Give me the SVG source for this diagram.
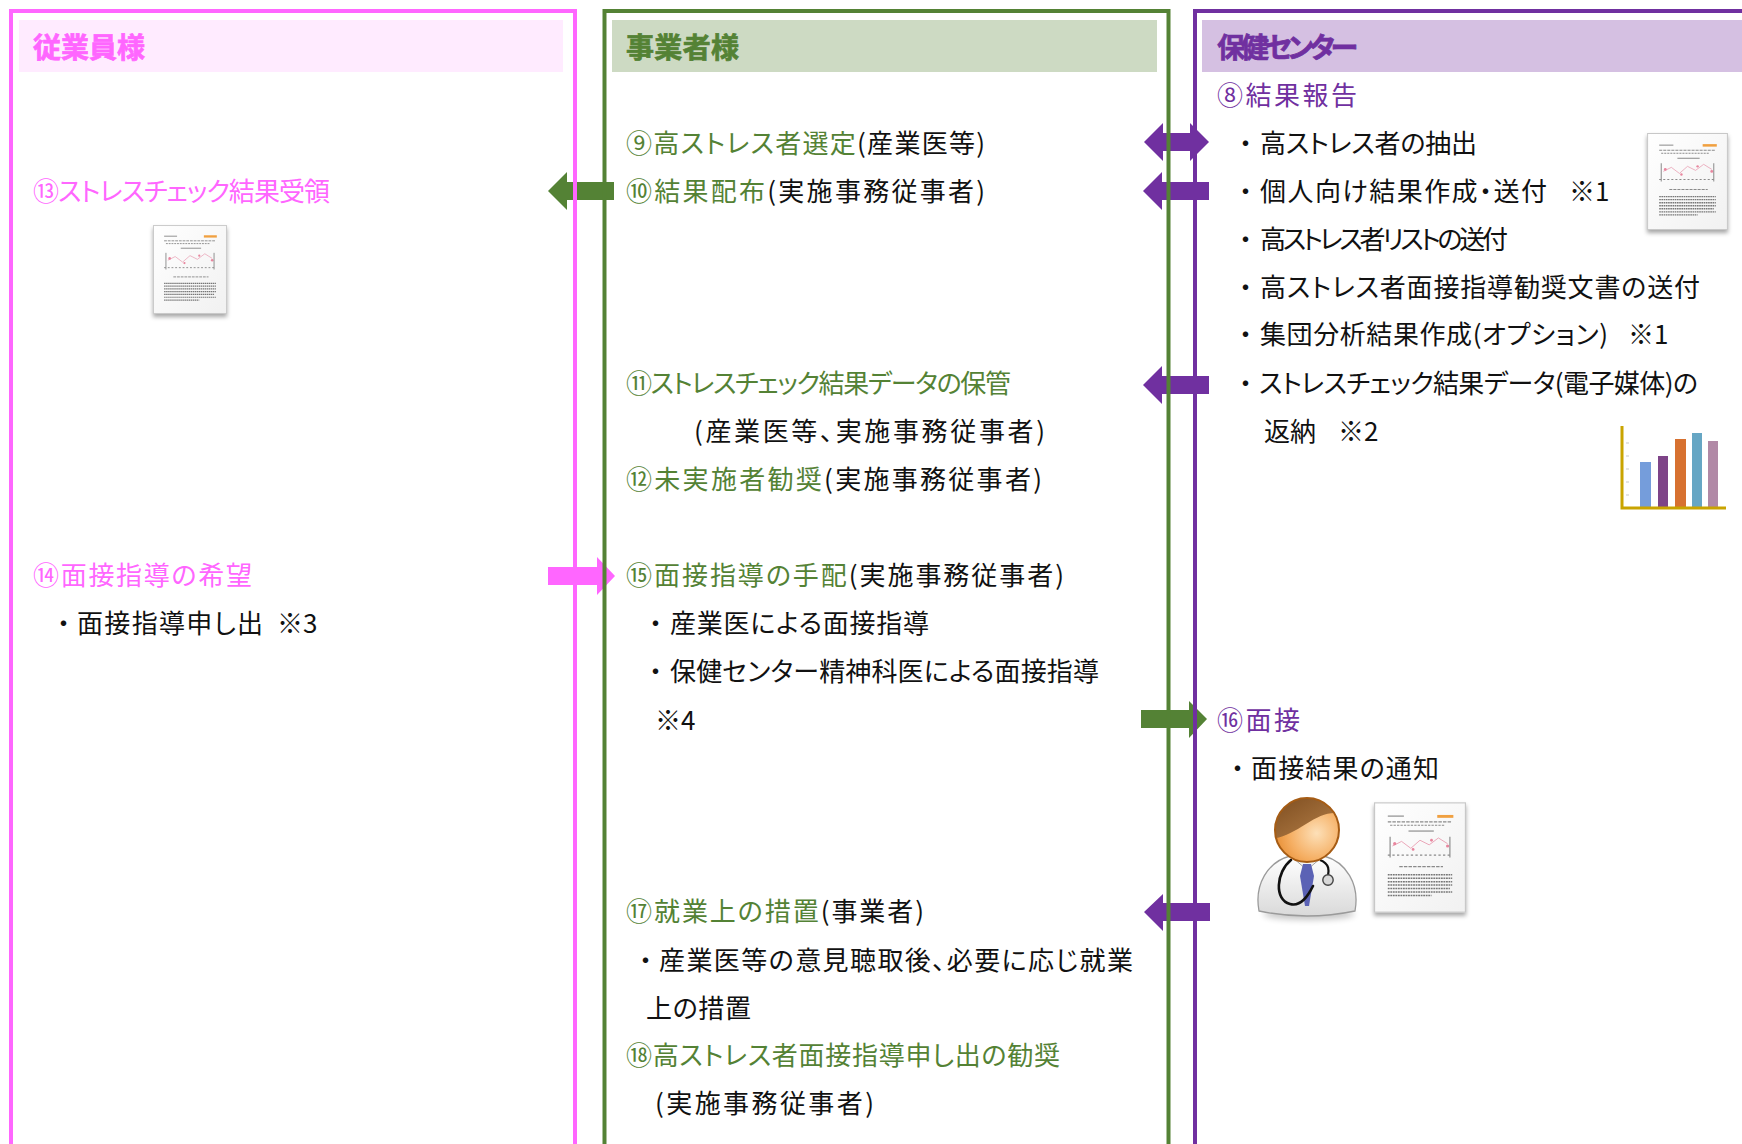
<svg xmlns="http://www.w3.org/2000/svg" width="1742" height="1144" viewBox="0 0 1742 1144">
  <style>
    text { font-family: "Noto Sans CJK JP", "Noto Sans", sans-serif; font-size: 26px; fill: #111; dominant-baseline: central; font-feature-settings: "palt" 1; }
    .hd { font-size: 28px; font-weight: 700; stroke-width: 0.7px; }
    .pk { fill: #ff66ff; }
    .gr { fill: #548235; }
    .pu { fill: #7030a0; }
    .hd.pk { stroke: #ff66ff; }
    .hd.gr { stroke: #548235; }
    .hd.pu { stroke: #7030a0; }
    .frame { fill: none; stroke-width: 4px; }
    .arrow-g { fill: #548235; }
    .arrow-p { fill: #7030a0; }
    .arrow-k { fill: #ff66ff; }
    .docline { stroke: #8a8a8a; stroke-width: 1; }
  </style>
  <defs>
    <filter id="shadow" x="-20%" y="-20%" width="140%" height="150%">
      <feDropShadow dx="0" dy="3" stdDeviation="2.2" flood-color="#000" flood-opacity="0.35"/>
    </filter>
    <filter id="soft" x="-50%" y="-50%" width="200%" height="200%">
      <feGaussianBlur stdDeviation="3"/>
    </filter>
    <linearGradient id="paper" x1="0" y1="0" x2="1" y2="1">
      <stop offset="0" stop-color="#ffffff"/>
      <stop offset="1" stop-color="#f1f1f1"/>
    </linearGradient>
    <radialGradient id="face" cx="0.65" cy="0.55" r="0.7">
      <stop offset="0" stop-color="#fde0b8"/>
      <stop offset="0.6" stop-color="#f5ae62"/>
      <stop offset="1" stop-color="#e58a2e"/>
    </radialGradient>
    <linearGradient id="hair" x1="0" y1="0" x2="1" y2="1">
      <stop offset="0" stop-color="#7a4a1e"/>
      <stop offset="1" stop-color="#b9834a"/>
    </linearGradient>
    <linearGradient id="coat" x1="0" y1="0" x2="0" y2="1">
      <stop offset="0" stop-color="#ffffff"/>
      <stop offset="1" stop-color="#d9d9d9"/>
    </linearGradient>
    <clipPath id="headclip"><circle cx="1307" cy="830" r="32"/></clipPath>

    <!-- small printed report sheet -->
    <symbol id="report" viewBox="0 0 80 96">
      <rect x="0.5" y="0.5" width="79" height="95" fill="url(#paper)" stroke="#c8c8c8" stroke-width="1"/>
      <rect x="55" y="11" width="14" height="2.5" fill="#f0a040"/>
      <line class="docline" x1="12" y1="12" x2="26" y2="12" stroke-width="0.7"/>
      <line class="docline" x1="12" y1="17" x2="68" y2="17" stroke-width="0.8" stroke-dasharray="3 1"/>
      <line class="docline" x1="14" y1="20" x2="62" y2="20" stroke-width="0.8" stroke-dasharray="2 1"/>
      <line class="docline" x1="30" y1="25" x2="52" y2="25" stroke-width="0.7"/>
      <polyline points="16,38 24,34 32,40 40,33 48,37 56,31 64,36" fill="none" stroke="#e9a0b4" stroke-width="0.8"/>
      <circle cx="18" cy="36" r="1.4" fill="#e8869e"/>
      <circle cx="34" cy="41" r="1.2" fill="#e8869e"/>
      <circle cx="50" cy="33" r="1.2" fill="#e8869e"/>
      <circle cx="64" cy="38" r="1.4" fill="#e8869e"/>
      <line class="docline" x1="14" y1="30" x2="14" y2="48" stroke-width="0.6"/>
      <line class="docline" x1="66" y1="30" x2="66" y2="48" stroke-width="0.6"/>
      <line class="docline" x1="12" y1="46" x2="68" y2="46" stroke-width="0.5" stroke-dasharray="2 2"/>
      <line class="docline" x1="22" y1="56" x2="60" y2="56" stroke-width="0.8" stroke-dasharray="3 1"/>
      <g stroke="#777" stroke-width="1.3" stroke-dasharray="1.6 0.6">
        <line x1="12" y1="63" x2="68" y2="63"/>
        <line x1="12" y1="66" x2="68" y2="66"/>
        <line x1="12" y1="69" x2="68" y2="69"/>
        <line x1="12" y1="72" x2="68" y2="72"/>
        <line x1="12" y1="75" x2="66" y2="75"/>
        <line x1="12" y1="78" x2="68" y2="78"/>
        <line x1="12" y1="81" x2="50" y2="81"/>
      </g>
    </symbol>
  </defs>

  <rect width="1742" height="1144" fill="#ffffff"/>

  <!-- flow arrows between the lanes (lane borders are painted over them) -->
  <g id="connectors">
    <path id="arrow-09" class="arrow-p" d="M1144,142 L1163,123 L1163,133 L1190,133 L1190,123 L1209,142 L1190,161 L1190,151 L1163,151 L1163,161 Z"/>
    <path id="arrow-08" class="arrow-p" d="M1143,191 L1162,172 L1162,182 L1209,182 L1209,200 L1162,200 L1162,210 Z"/>
    <path id="arrow-10" class="arrow-g" d="M548,191 L567,172 L567,182 L614,182 L614,200 L567,200 L567,210 Z"/>
    <path id="arrow-11" class="arrow-p" d="M1143,385 L1162,366 L1162,376 L1209,376 L1209,394 L1162,394 L1162,404 Z"/>
    <path id="arrow-14" class="arrow-k" d="M548,567 L597,567 L597,557 L615,576 L597,595 L597,585 L548,585 Z"/>
    <path id="arrow-16" class="arrow-g" d="M1141,710 L1189,710 L1189,701 L1207,719 L1189,738 L1189,728 L1141,728 Z"/>
    <path id="arrow-17" class="arrow-p" d="M1144,912 L1163,894 L1163,903 L1210,903 L1210,921 L1163,921 L1163,931 Z"/>
  </g>

  <!-- swim lanes -->
  <g id="lane-employee">
    <rect x="19" y="20" width="544" height="52" fill="#ffebff"/>
    <rect class="frame" x="11" y="11" width="564" height="1200" stroke="#ff66ff"/>
    <text class="hd pk" x="33" y="46" textLength="112">従業員様</text>
  </g>
  <g id="lane-employer">
    <rect x="612" y="20" width="545" height="52" fill="#cddac3"/>
    <rect class="frame" x="604.5" y="11" width="564" height="1200" stroke="#548235"/>
    <text class="hd gr" x="626" y="46" textLength="113">事業者様</text>
  </g>
  <g id="lane-center">
    <rect x="1202" y="20" width="545" height="52" fill="#d5c0e2"/>
    <rect class="frame" x="1195" y="11" width="600" height="1200" stroke="#7030a0" stroke-width="3.5"/>
    <text class="hd pu" x="1217" y="46" textLength="141">保健センター</text>
  </g>

  <!-- health center steps -->
  <g id="step-08">
    <text class="pu" x="1217" y="93" textLength="140">⑧結果報告</text>
    <text x="1239" y="141">・<tspan x="1260" textLength="217">高ストレス者の抽出</tspan></text>
    <text x="1239" y="189">・<tspan x="1260" textLength="287">個人向け結果作成・送付</tspan><tspan x="1569">※1</tspan></text>
    <text x="1239" y="237">・<tspan x="1260" textLength="248">高ストレス者リストの送付</tspan></text>
    <text x="1239" y="285">・<tspan x="1260" textLength="440">高ストレス者面接指導勧奨文書の送付</tspan></text>
    <text x="1239" y="332">・<tspan x="1260" textLength="348">集団分析結果作成(オプション)</tspan><tspan x="1628">※1</tspan></text>
    <text x="1239" y="381">・<tspan x="1259" textLength="439">ストレスチェック結果データ(電子媒体)の</tspan></text>
    <text x="1264" y="429">返納<tspan x="1338">※2</tspan></text>
  </g>
  <g id="report-individual" filter="url(#shadow)">
    <use href="#report" x="1647" y="133" width="81" height="97"/>
  </g>
  <g id="group-chart">
    <g opacity="0.92">
      <rect x="1640" y="462" width="11" height="45" fill="#6a95d8"/>
      <rect x="1658" y="456" width="10" height="51" fill="#74357e"/>
      <rect x="1675" y="439" width="11" height="68" fill="#d4661f"/>
      <rect x="1692" y="433" width="10" height="74" fill="#5a9fbf"/>
      <rect x="1708" y="441" width="10" height="66" fill="#ab7f9f"/>
    </g>
    <g stroke="#bbb" stroke-width="0.8">
      <line x1="1626" y1="443" x2="1629" y2="443"/>
      <line x1="1626" y1="456" x2="1629" y2="456"/>
      <line x1="1626" y1="469" x2="1629" y2="469"/>
      <line x1="1626" y1="482" x2="1629" y2="482"/>
      <line x1="1626" y1="495" x2="1629" y2="495"/>
    </g>
    <polyline points="1622,426 1622,508 1726,508" fill="none" stroke="#c9a400" stroke-width="3"/>
  </g>

  <g id="step-16">
    <text class="pu" x="1217" y="718" textLength="83">⑯面接</text>
    <text x="1231" y="766">・<tspan x="1251" textLength="188">面接結果の通知</tspan></text>
  </g>
  <g id="doctor">
    <ellipse cx="1309" cy="914" rx="46" ry="6" fill="#000" opacity="0.22" filter="url(#soft)"/>
    <path d="M1259,911 C1254,884 1268,862 1290,856 L1324,856 C1346,862 1360,884 1355,911 Q1307,921 1259,911 Z" fill="url(#coat)" stroke="#9a9a9a" stroke-width="1.3"/>
    <path d="M1292,857 L1307,870 L1322,857" fill="#f4f4f4" stroke="#a0a0a0" stroke-width="1"/>
    <path d="M1303,864 L1311,864 L1314,876 L1309,906 L1305,906 L1300,876 Z" fill="#5b62b5"/>
    <path d="M1291,860 C1276,872 1274,900 1290,904 C1301,907 1308,896 1313,886" fill="none" stroke="#111" stroke-width="2.6" stroke-linecap="round"/>
    <path d="M1320,860 C1330,864 1329,871 1328,876" fill="none" stroke="#111" stroke-width="2.2"/>
    <circle cx="1328" cy="880" r="5.2" fill="#d8d8d8" stroke="#444" stroke-width="1.4"/>
    <circle cx="1307" cy="830" r="32" fill="url(#face)"/>
    <path clip-path="url(#headclip)" d="M1270,795 L1345,795 L1345,815 C1332,810 1320,815 1306,824 C1293,832 1283,838 1270,839 Z" fill="url(#hair)"/>
    <circle cx="1307" cy="830" r="32" fill="none" stroke="#a65c14" stroke-width="2"/>
  </g>
  <g id="report-interview" filter="url(#shadow)">
    <use href="#report" x="1374" y="802" width="92" height="111"/>
  </g>

  <!-- employer steps -->
  <g id="step-09">
    <text x="626" y="141" textLength="359"><tspan class="gr">⑨高ストレス者選定</tspan>(産業医等)</text>
  </g>
  <g id="step-10">
    <text x="626" y="189" textLength="359"><tspan class="gr">⑩結果配布</tspan>(実施事務従事者)</text>
  </g>
  <g id="step-11">
    <text class="gr" x="626" y="381" textLength="385">⑪ストレスチェック結果データの保管</text>
    <text x="694" y="429" textLength="351">(産業医等、実施事務従事者)</text>
  </g>
  <g id="step-12">
    <text x="626" y="477" textLength="416"><tspan class="gr">⑫未実施者勧奨</tspan>(実施事務従事者)</text>
  </g>
  <g id="step-15">
    <text x="626" y="573" textLength="438"><tspan class="gr">⑮面接指導の手配</tspan>(実施事務従事者)</text>
    <text x="649" y="621">・<tspan x="670" textLength="259">産業医による面接指導</tspan></text>
    <text x="649" y="669">・<tspan x="670" textLength="429">保健センター精神科医による面接指導</tspan></text>
    <text x="655" y="718">※4</text>
  </g>
  <g id="step-17">
    <text x="626" y="909" textLength="298"><tspan class="gr">⑰就業上の措置</tspan>(事業者)</text>
    <text x="639" y="958">・<tspan x="659" textLength="474">産業医等の意見聴取後、必要に応じ就業</tspan></text>
    <text x="646" y="1006" textLength="105">上の措置</text>
  </g>
  <g id="step-18">
    <text class="gr" x="626" y="1053" textLength="434">⑱高ストレス者面接指導申し出の勧奨</text>
    <text x="655" y="1101" textLength="219">(実施事務従事者)</text>
  </g>

  <!-- employee steps -->
  <g id="step-13">
    <text class="pk" x="33" y="189" textLength="297">⑬ストレスチェック結果受領</text>
  </g>
  <g id="report-received" filter="url(#shadow)">
    <use href="#report" x="153" y="225" width="74" height="89"/>
  </g>
  <g id="step-14">
    <text class="pk" x="33" y="573" textLength="219">⑭面接指導の希望</text>
    <text x="57" y="621">・<tspan x="77" textLength="186">面接指導申し出</tspan><tspan x="277">※3</tspan></text>
  </g>
</svg>
